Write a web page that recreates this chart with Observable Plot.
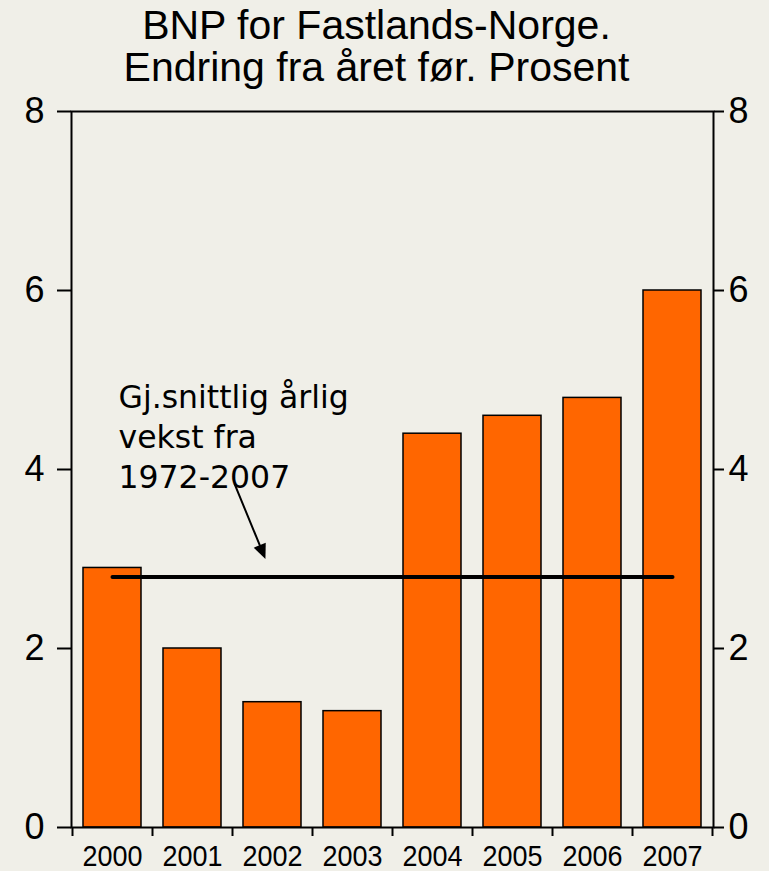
<!DOCTYPE html>
<html><head><meta charset="utf-8">
<script src="https://cdn.jsdelivr.net/npm/d3@7"></script>
<script src="https://cdn.jsdelivr.net/npm/@observablehq/plot@0.6"></script>
<style>
html,body{margin:0;padding:0;background:#f0efe8;}
#wrap{width:769px;height:871px;overflow:hidden;position:relative;background:#f0efe8;}
#title{height:88px;box-sizing:border-box;padding-top:4px;padding-right:16px;text-align:center;font-family:"Liberation Sans",Arial,sans-serif;font-size:41px;line-height:42px;color:#000;}
#chart svg{display:block;background:#f0efe8;}
</style></head><body>
<div id="wrap">
<div id="title">BNP for Fastlands-Norge.<br>Endring fra året før. Prosent</div>
<div id="chart"></div>
</div>
<script>
// Data
const years = ["2000", "2001", "2002", "2003", "2004", "2005", "2006", "2007"];
const values = [2.9, 2.0, 1.4, 1.3, 4.4, 4.6, 4.8, 6.0];
const avgGrowth = 2.8;                 // Gj.snittlig årlig vekst 1972-2007
const avgSpan = ["2000", "2007"];
const yTicks = [0, 2, 4, 6, 8];
const noteText = "Gj.snittlig årlig\nvekst fra\n1972-2007";
const noteAt = {year: "2000", value: 5.0};
const arrowFrom = {year: "2001", value: 4.983};
const arrowTo = {year: "2002", value: 2.807};

const data = years.map((year, i) => ({year, value: values[i]}));
const avgData = avgSpan.map(year => ({year, value: avgGrowth}));

const W = 769, H = 783;
const plot = Plot.plot({
  width: W,
  height: H,
  marginTop: 23,
  marginBottom: 44,
  marginLeft: 71,
  marginRight: 56,
  style: {background: "#f0efe8", fontFamily: "'Liberation Sans', Arial, sans-serif", color: "#000", overflow: "visible"},
  x: {type: "band", domain: years, paddingInner: 0.275, paddingOuter: 0.13, label: null, axis: null},
  y: {domain: [0, 8], label: null, axis: null},
  marks: [
    Plot.barY(data, {x: "year", y: "value", fill: "#ff6600", stroke: "#000", strokeWidth: 1.5}),
    Plot.frame({stroke: "#000", strokeWidth: 2}),
    Plot.axisY({anchor: "left", ticks: yTicks, tickSize: 14, tickPadding: 13, fontSize: 36, strokeWidth: 2, label: null}),
    Plot.axisY({anchor: "right", ticks: yTicks, tickSize: 10, tickPadding: 5, fontSize: 36, strokeWidth: 2, label: null}),
    Plot.axisX({ticks: years, tickSize: 9, dx: -40, strokeWidth: 2, tickFormat: () => "", label: null}),
    Plot.axisX({ticks: [years[years.length - 1]], tickSize: 9, dx: 40, strokeWidth: 2, tickFormat: () => "", label: null}),
    Plot.axisX({ticks: years, tickSize: 0, tickPadding: 17, fontSize: 30, label: null}),
    Plot.lineY(avgData, {x: "year", y: "value", stroke: "#000", strokeWidth: 4}),
    Plot.text([noteAt], {x: "year", y: "value", text: () => noteText, textAnchor: "start", lineAnchor: "top", dx: 6,
      fontSize: 31.5, lineHeight: 1.27, fontFamily: "'DejaVu Sans', Verdana, sans-serif", fill: "#000"}),
    Plot.arrow([{from: arrowFrom, to: arrowTo}], {
      x1: d => d.from.year, y1: d => d.from.value, x2: d => d.to.year, y2: d => d.to.value,
      insetStart: 111.2, insetEnd: 18.6, headLength: 0, stroke: "#000", strokeWidth: 2
    })
  ]
});
document.getElementById("chart").appendChild(plot);

// Condense year labels (the reference uses a narrow face)
plot.querySelectorAll("text").forEach(t => {
  if (/^\s*\d{4}\s*$/.test(t.textContent)) {
    t.setAttribute("textLength", "60");
    t.setAttribute("lengthAdjust", "spacingAndGlyphs");
  }
});

// Replace arrow head with a filled triangle (from Plot's computed arrow geometry)
const ap = plot.querySelector('g[aria-label="arrow"] path');
if (ap) {
  const n = (ap.getAttribute("d").match(/-?\d*\.?\d+(?:e[-+]?\d+)?/gi) || []).map(Number);
  if (n.length >= 4) {
    const [x1, y1, x2, y2] = n;
    const L = Math.hypot(x2 - x1, y2 - y1), ux = (x2 - x1) / L, uy = (y2 - y1) / L;
    const hl = 15, hw = 6.5;
    const bx = x2 - ux * hl, by = y2 - uy * hl;
    ap.setAttribute("d", `M${x1},${y1}L${bx},${by}`);
    const tri = document.createElementNS("http://www.w3.org/2000/svg", "path");
    tri.setAttribute("d", `M${x2},${y2}L${bx - uy * hw},${by + ux * hw}L${bx + uy * hw},${by - ux * hw}Z`);
    tri.setAttribute("fill", "#000");
    tri.setAttribute("stroke", "none");
    ap.parentNode.appendChild(tri);
  }
}
</script>
</body></html>
